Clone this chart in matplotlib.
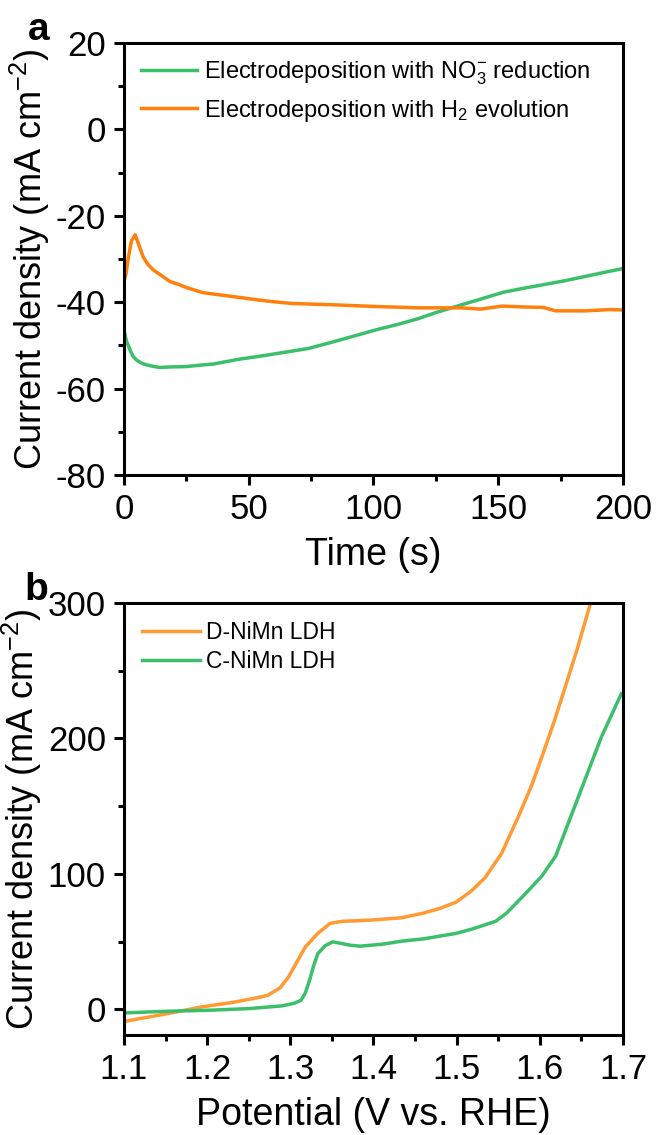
import matplotlib
matplotlib.use("Agg")
import matplotlib.pyplot as plt
from matplotlib.ticker import MultipleLocator

plt.rcParams['font.family'] = ['Liberation Sans', 'DejaVu Sans']
plt.rcParams['mathtext.fontset'] = 'custom'
plt.rcParams['mathtext.rm'] = 'Liberation Sans'
plt.rcParams['mathtext.it'] = 'Liberation Sans'
plt.rcParams['axes.unicode_minus'] = False

# panel a: current vs time
t_no3 = [0, 1, 2.4, 3.5, 5, 7, 9, 12, 14.4, 18, 25, 30, 36, 46, 51, 60, 74, 85, 101, 110, 118, 125, 133, 140, 152, 160, 177, 190, 200]
j_no3 = [-46.4, -49, -51, -52.4, -53.4, -54.1, -54.5, -54.9, -55.1, -55.0, -54.9, -54.6, -54.3, -53.2, -52.8, -52.0, -50.7, -49.0, -46.4, -45.1, -43.8, -42.4, -41.0, -39.8, -37.7, -36.8, -35.0, -33.4, -32.2]
t_h2 = [0, 0.8, 1.8, 3, 4.5, 6, 7.7, 9.5, 11.7, 14, 18.4, 22, 25, 31.7, 38.4, 46.4, 54, 60, 67.5, 84, 101, 118, 135, 143, 151.6, 160, 168, 173, 185, 195, 200]
j_h2 = [-35.2, -33.5, -29.5, -25.8, -24.4, -26.8, -29.5, -31.2, -32.5, -33.4, -35.2, -35.9, -36.6, -37.8, -38.3, -38.9, -39.5, -39.9, -40.3, -40.6, -41.0, -41.3, -41.3, -41.6, -40.9, -41.1, -41.2, -42.0, -42.0, -41.7, -41.8]

# panel b: LSV curves
v_d = [1.10, 1.15, 1.193, 1.23, 1.26, 1.273, 1.288, 1.298, 1.308, 1.318, 1.333, 1.348, 1.363, 1.378, 1.40, 1.434, 1.46, 1.48, 1.499, 1.517, 1.534, 1.554, 1.574, 1.59, 1.604, 1.617, 1.629, 1.645, 1.661]
j_d = [-9, -3.5, 1.7, 5, 8.5, 10.3, 16, 24, 35, 46, 56, 63.5, 65, 65.3, 66, 67.6, 71, 74.5, 79, 87, 97, 115, 142, 165, 189, 212, 235, 266, 300]
v_c = [1.10, 1.15, 1.203, 1.25, 1.29, 1.305, 1.313, 1.318, 1.323, 1.328, 1.333, 1.342, 1.351, 1.36, 1.372, 1.384, 1.41, 1.434, 1.46, 1.499, 1.52, 1.547, 1.56, 1.579, 1.602, 1.619, 1.634, 1.659, 1.674, 1.698]
j_c = [-2.7, -1.5, -0.7, 0.5, 2.5, 4.5, 6.7, 12, 21, 32, 41, 47, 49.8, 48.8, 47.3, 46.6, 48, 50.3, 52, 56, 59.5, 65, 71, 83, 98, 113, 137, 177, 201, 233]

green = '#3cbf6a'
orange_a = '#ff800d'
orange_b = '#ff9a35'

fig = plt.figure(figsize=(6.57, 11.35), dpi=100)
ax1 = fig.add_axes([0.1887, 0.5815, 0.7595, 0.3806])
ax2 = fig.add_axes([0.1887, 0.0881, 0.7595, 0.3806])

ax1.plot(t_no3, j_no3, color=green, lw=2.5, label='Electrodeposition with NO$_3^{-}$ reduction')
ax1.plot(t_h2, j_h2, color=orange_a, lw=2.5, label='Electrodeposition with H$_2$ evolution')
ax1.set_xlim(0, 200)
ax1.set_ylim(-80, 20)
ax1.xaxis.set_major_locator(MultipleLocator(50))
ax1.xaxis.set_minor_locator(MultipleLocator(25))
ax1.yaxis.set_major_locator(MultipleLocator(20))
ax1.yaxis.set_minor_locator(MultipleLocator(10))
ax1.set_xlabel('Time (s)', fontsize=27, labelpad=8)
ax1.set_ylabel('Current density (mA cm$^{-2}$)', fontsize=26, labelpad=3)
ax1.legend(loc='upper left', bbox_to_anchor=(0.0, 1.0), frameon=False, fontsize=17,
           handlelength=2.4, handletextpad=0.3, borderaxespad=0.3, labelspacing=0.45)

ax2.plot(v_d, j_d, color=orange_b, lw=2.5, label='D-NiMn LDH')
ax2.plot(v_c, j_c, color=green, lw=2.5, label='C-NiMn LDH')
ax2.set_xlim(1.1, 1.7)
ax2.set_ylim(-19, 300)
ax2.xaxis.set_major_locator(MultipleLocator(0.1))
ax2.xaxis.set_minor_locator(MultipleLocator(0.05))
ax2.yaxis.set_major_locator(MultipleLocator(100))
ax2.yaxis.set_minor_locator(MultipleLocator(50))
ax2.set_xlabel('Potential (V vs. RHE)', fontsize=27, labelpad=8)
ax2.set_ylabel('Current density (mA cm$^{-2}$)', fontsize=26, labelpad=3)
ax2.legend(loc='upper left', bbox_to_anchor=(0.0, 1.0), frameon=False, fontsize=16.5,
           handlelength=2.5, handletextpad=0.3, borderaxespad=0.4, labelspacing=0.25)

fig.text(28 / 657, 1 - 40 / 1135, 'a', fontsize=28, fontweight='bold', va='baseline')
fig.text(24 / 657, 1 - 600 / 1135, 'b', fontsize=28, fontweight='bold', va='baseline')

for ax in (ax1, ax2):
    for s in ax.spines.values():
        s.set_linewidth(2.2)
    ax.tick_params(which='major', direction='out', length=7, width=2.2, labelsize=25, pad=6)
    ax.tick_params(which='minor', direction='out', length=4, width=2.2)

fig.savefig('out.png', dpi=100)
